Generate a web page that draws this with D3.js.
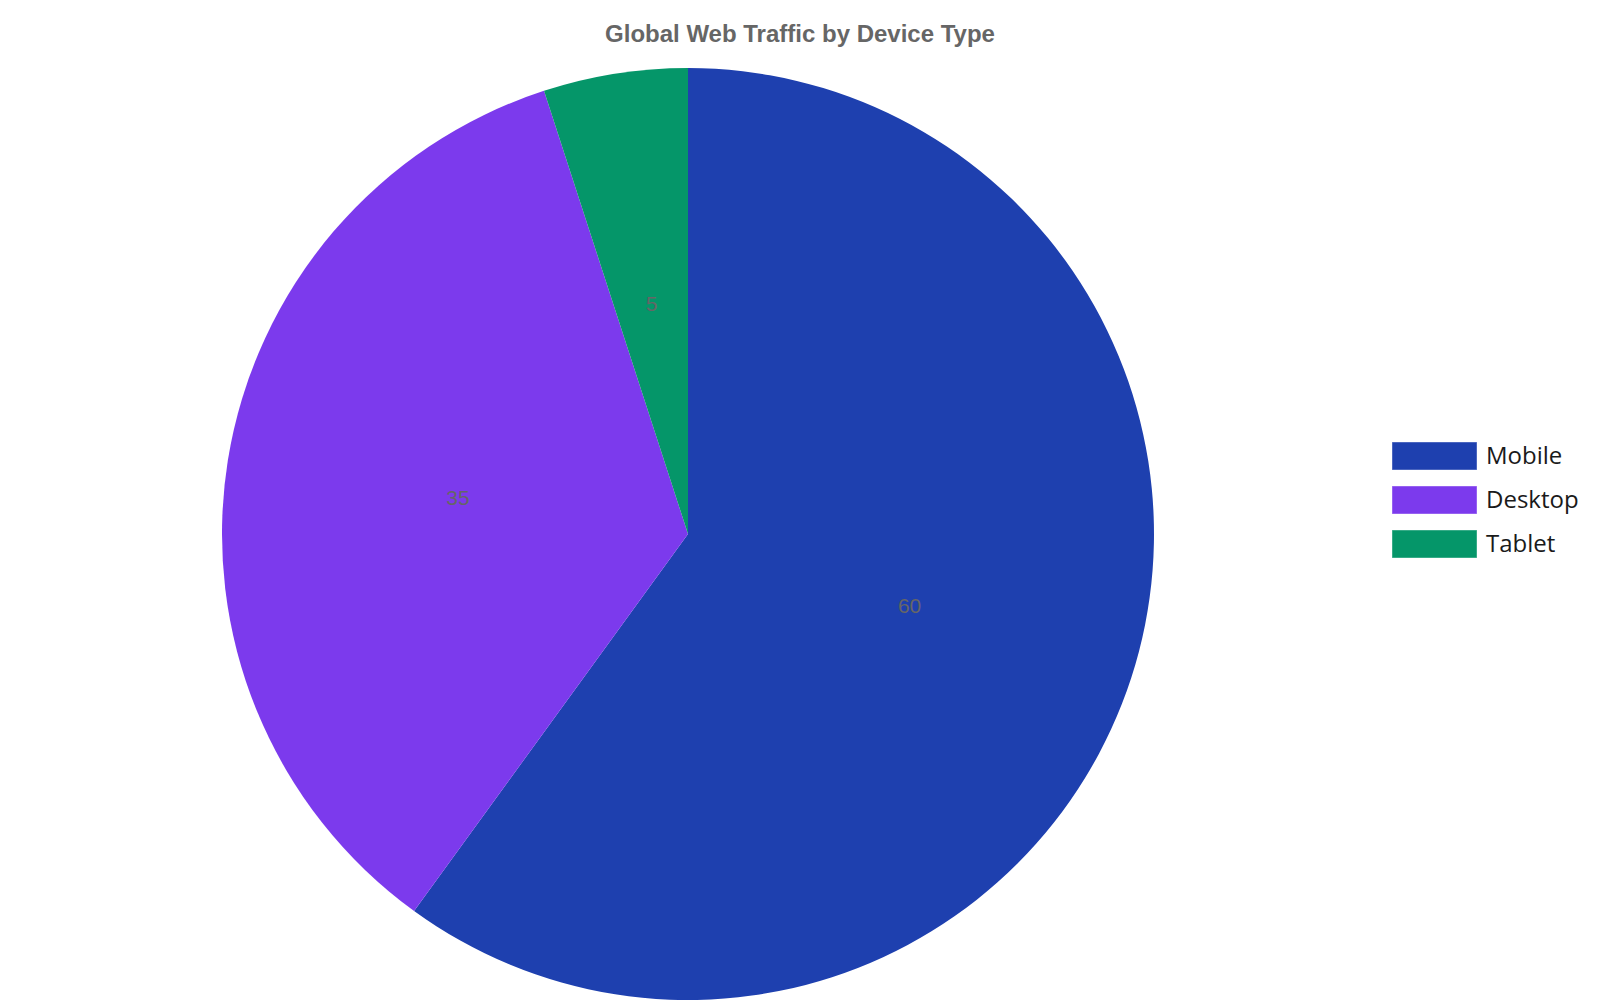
<!DOCTYPE html>
<html>
<head>
<meta charset="utf-8">
<script src="https://cdn.jsdelivr.net/npm/d3@7"></script>
<style>
  body { margin: 0; background: #fff; }
</style>
</head>
<body>
<div id="vis"></div>
<script>
// pie of web traffic share by device
var w = 1600;
var h = 1000;

var devices = ["Mobile", "Desktop", "Tablet"];
var shares = [60, 35, 5];
var colours = ["#1e40af", "#7c3aed", "#059669"];

var cx = 688;
var cy = 534;
var rad = 466;

var svg = d3.select("#vis").append("svg").attr("width", w).attr("height", h);

svg
  .append("text")
  .attr("x", 800)
  .attr("y", 42)
  .attr("text-anchor", "middle")
  .attr("font-family", "Liberation Sans, Arial, sans-serif")
  .attr("font-weight", "bold")
  .attr("font-size", 24)
  .attr("fill", "#666666")
  .text("Global Web Traffic by Device Type");

var colour = d3.scaleOrdinal().domain(devices).range(colours);

var pie = d3.pie().sort(null).value(function (d, i) { return shares[i]; });
var arc = d3.arc().innerRadius(0).outerRadius(rad);

var slices = pie(devices);

var g = svg.append("g").attr("transform", "translate(" + cx + "," + cy + ")");

g.selectAll("path")
  .data(slices)
  .enter()
  .append("path")
  .attr("d", arc)
  .attr("fill", function (d) { return colour(d.data); });

g.selectAll("text")
  .data(slices)
  .enter()
  .append("text")
  .attr("transform", function (d) { return "translate(" + arc.centroid(d) + ")"; })
  .attr("text-anchor", "middle")
  .attr("dy", "0.35em")
  .attr("font-family", "Liberation Sans, Arial, sans-serif")
  .attr("font-size", 21)
  .attr("fill", "#666666")
  .text(function (d) { return d.value; });

// legend on the right
var legend = svg
  .append("g")
  .attr("transform", "translate(1392,442)");

var item = legend
  .selectAll("g")
  .data(devices)
  .enter()
  .append("g")
  .attr("transform", function (d, i) { return "translate(0," + i * 44 + ")"; });

item
  .append("rect")
  .attr("width", 85)
  .attr("height", 28)
  .attr("fill", function (d) { return colour(d); })
  .attr("stroke", "#ffffff")
  .attr("stroke-opacity", 0.4)
  .attr("stroke-width", 1);

item
  .append("text")
  .attr("x", 94)
  .attr("y", 14)
  .attr("dy", "0.35em")
  .attr("font-family", "Open Sans, sans-serif")
  .attr("font-size", 24)
  .attr("fill", "#1a1a1a")
  .text(function (d) { return d; });
</script>
</body>
</html>
